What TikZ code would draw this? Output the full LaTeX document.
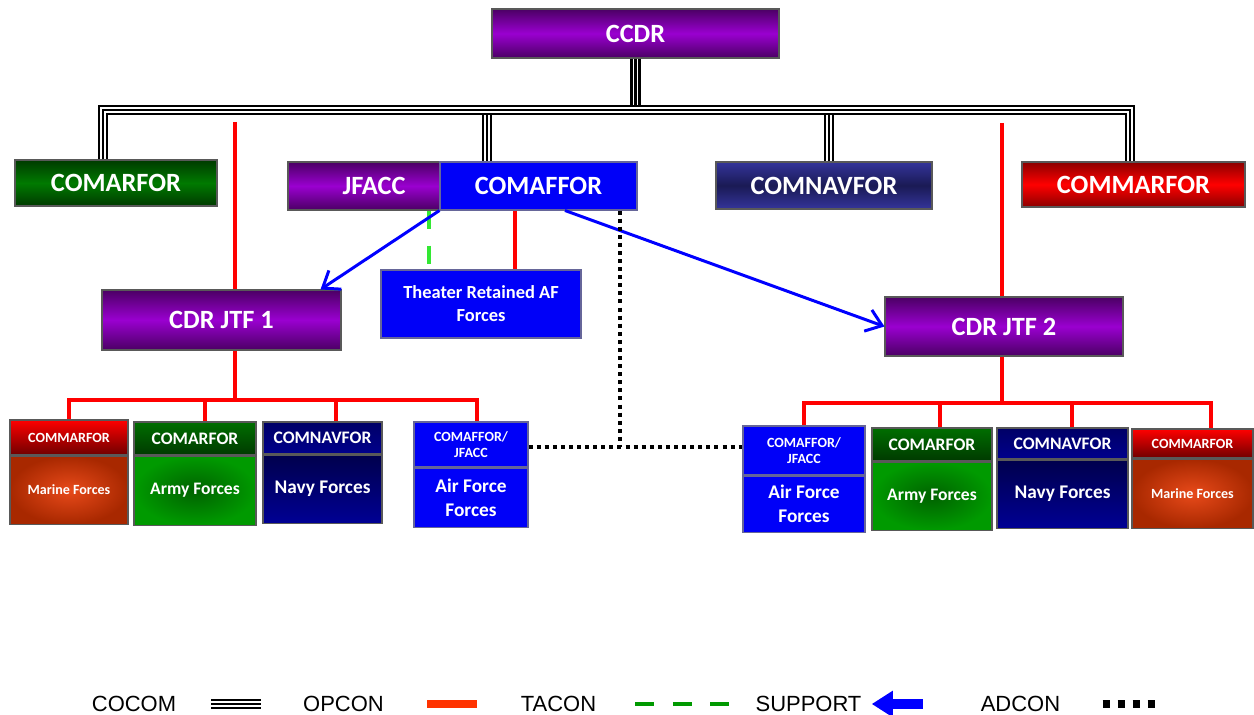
\documentclass[tikz,border=0pt]{standalone}
\usepackage{fontspec}
\setmainfont{Carlito}
\newfontfamily\legfont{Liberation Sans}
\usetikzlibrary{positioning, arrows.meta}

\definecolor{purpledk}{HTML}{4B0064}
\definecolor{purplelt}{HTML}{9A00D0}
\definecolor{greendk}{HTML}{003A00}
\definecolor{greenlt}{HTML}{007A00}
\definecolor{navylt}{HTML}{34349A}
\definecolor{navydk}{HTML}{1A1A55}
\definecolor{reddk}{HTML}{8B0000}
\definecolor{afblue}{HTML}{0000F8}
\definecolor{marin}{HTML}{E84A1A}
\definecolor{marout}{HTML}{A82800}
\definecolor{armin}{HTML}{006200}
\definecolor{armout}{HTML}{009A00}
\definecolor{tacongreen}{HTML}{33E833}
\definecolor{legreen}{HTML}{009900}
\definecolor{legred}{HTML}{FF3300}

\begin{document}
\begin{tikzpicture}[
    box/.style={draw=black!65, line width=0.6pt, text=white, align=center, inner sep=0pt},
    purplebox/.style={box, top color=purpledk, bottom color=purpledk, middle color=purplelt},
    greenbox/.style={box, top color=greendk, bottom color=greendk, middle color=greenlt},
    navybox/.style={box, top color=navylt, bottom color=navylt, middle color=navydk},
    redbox/.style={box, top color=reddk, bottom color=reddk, middle color=red},
    bluebox/.style={box, draw=gray!80!blue, fill=afblue},
    redhead/.style={box, top color=red, bottom color=reddk!80!black},
    greenhead/.style={box, top color=greenlt!90!black, bottom color=greendk},
    navyhead/.style={box, top color=blue!40!black, bottom color=blue!55!black},
    marbody/.style={box, inner color=marin, outer color=marout},
    armbody/.style={box, inner color=armin, outer color=armout},
    navybody/.style={box, top color=blue!30!black, bottom color=blue!58!black},
    big/.style={font=\fontsize{15}{17}\selectfont\bfseries},
    mid/.style={font=\fontsize{10.5}{13}\selectfont\bfseries},
    tiny/.style={font=\fontsize{8}{9.5}\selectfont\bfseries},
    tag/.style={font=\fontsize{10}{12}\selectfont\bfseries},
    cocom/.style={line width=6pt, black, postaction={draw=white, line width=3.2pt}, postaction={draw=black, line width=1.3pt}},
    opcon/.style={red, line width=2.4pt},
    tacon/.style={tacongreen, line width=2.3pt, dash pattern=on 0.36cm off 0.34cm},
    support/.style={blue, line width=1.7pt, -{Straight Barb[length=0.3cm, width=0.45cm]}},
    adcon/.style={black, line width=2.3pt, dash pattern=on 2.3pt off 2.3pt},
    legtxt/.style={font=\legfont\fontsize{12.5}{14}\selectfont, inner sep=0pt}
  ]
  \useasboundingbox (0,0) rectangle (25.08,-14.3);

  % top level
  \node[purplebox, big, minimum width=5.74cm, minimum height=0.98cm] (ccdr) at (12.71,-0.67) {CCDR};

  % component commanders
  \node[greenbox, big, minimum width=4.04cm, minimum height=0.92cm] (comarf) at (2.32,-3.66) {COMARFOR};
  \node[purplebox, big, minimum width=3.04cm, minimum height=0.96cm] (jfacc) at (7.28,-3.72) {\hspace{0.4cm}JFACC};
  \node[bluebox, big, minimum width=3.94cm, minimum height=0.96cm] (comaf) at (10.77,-3.72) {COMAFFOR};
  \node[navybox, big, minimum width=4.32cm, minimum height=0.94cm] (comnav) at (16.48,-3.71) {COMNAVFOR};
  \node[redbox, big, minimum width=4.46cm, minimum height=0.9cm] (commarf) at (22.67,-3.69) {COMMARFOR};

  % joint task forces
  \node[purplebox, big, minimum width=4.78cm, minimum height=1.2cm] (jtf1) at (4.43,-6.4) {CDR JTF 1};
  \node[bluebox, mid, minimum width=4.0cm, minimum height=1.36cm] (theater) at (9.62,-6.08) {Theater Retained AF\\Forces};
  \node[purplebox, big, minimum width=4.76cm, minimum height=1.18cm] (jtf2) at (20.08,-6.53) {CDR JTF 2};

  % forces under JTF 1
  \node[redhead, tiny, minimum width=2.36cm, minimum height=0.7cm] (mar1h) at (1.38,-8.75) {COMMARFOR};
  \node[marbody, tiny, minimum width=2.36cm, minimum height=1.36cm, below=0pt of mar1h] (mar1b) {Marine Forces};
  \node[greenhead, tag, minimum width=2.44cm, minimum height=0.66cm] (arm1h) at (3.9,-8.77) {COMARFOR};
  \node[armbody, tag, minimum width=2.44cm, minimum height=1.38cm, below=0pt of arm1h] (arm1b) {Army Forces};
  \node[navyhead, tag, minimum width=2.38cm, minimum height=0.64cm] (nav1h) at (6.45,-8.76) {COMNAVFOR};
  \node[navybody, font=\fontsize{11}{13}\selectfont\bfseries, minimum width=2.38cm, minimum height=1.36cm, below=0pt of nav1h] (nav1b) {Navy Forces};
  \node[bluebox, tiny, minimum width=2.28cm, minimum height=0.9cm] (air1h) at (9.42,-8.89) {COMAFFOR/\\JFACC};
  \node[bluebox, font=\fontsize{11}{13.5}\selectfont\bfseries, minimum width=2.28cm, minimum height=1.18cm, below=0pt of air1h] (air1b) {Air Force\\Forces};

  % forces under JTF 2
  \node[bluebox, tiny, minimum width=2.44cm, minimum height=0.98cm] (air2h) at (16.08,-9.01) {COMAFFOR/\\JFACC};
  \node[bluebox, font=\fontsize{11}{13.5}\selectfont\bfseries, minimum width=2.44cm, minimum height=1.12cm, below=0pt of air2h] (air2b) {Air Force\\Forces};
  \node[greenhead, tag, minimum width=2.4cm, minimum height=0.66cm] (arm2h) at (18.64,-8.89) {COMARFOR};
  \node[armbody, tag, minimum width=2.4cm, minimum height=1.36cm, below=0pt of arm2h] (arm2b) {Army Forces};
  \node[navyhead, tag, minimum width=2.62cm, minimum height=0.62cm] (nav2h) at (21.25,-8.87) {COMNAVFOR};
  \node[navybody, font=\fontsize{11}{13}\selectfont\bfseries, minimum width=2.62cm, minimum height=1.36cm, below=0pt of nav2h] (nav2b) {Navy Forces};
  \node[redhead, tiny, minimum width=2.42cm, minimum height=0.58cm] (mar2h) at (23.85,-8.87) {COMMARFOR};
  \node[marbody, tiny, minimum width=2.42cm, minimum height=1.38cm, below=0pt of mar2h] (mar2b) {Marine Forces};

  % COCOM
  \coordinate (bus) at (12.72,-2.2);
  \draw[cocom] ([xshift=-0.26cm]comarf.north) |- (bus) -| ([xshift=-0.07cm]commarf.north);
  \draw[cocom] (ccdr.south) -- ([yshift=0.1cm]ccdr.south |- bus);
  \draw[cocom] ([xshift=-1.03cm,yshift=-0.1cm]comaf.north |- bus) -- ([xshift=-1.03cm]comaf.north);
  \draw[cocom] ([xshift=0.1cm,yshift=-0.1cm]comnav.north |- bus) -- ([xshift=0.1cm]comnav.north);

  % OPCON
  \coordinate (op1) at (4.7,-2.44);
  \coordinate (lbus1) at (4.7,-8.0);
  \draw[opcon] (op1) -- (op1 |- jtf1.north);
  \draw[opcon] (op1 |- jtf1.south) -- (lbus1);
  \draw[opcon] (mar1h.north) |- (lbus1) -| ([xshift=0.12cm]air1h.north);
  \draw[opcon] ([xshift=0.2cm]arm1h.north) -- ([xshift=0.2cm]arm1h.north |- lbus1);
  \draw[opcon] ([xshift=0.27cm]nav1h.north) -- ([xshift=0.27cm]nav1h.north |- lbus1);

  \coordinate (op2) at (20.04,-2.46);
  \coordinate (lbus2) at (20.04,-8.06);
  \draw[opcon] (op2) -- (op2 |- jtf2.north);
  \draw[opcon] (op2 |- jtf2.south) -- (lbus2);
  \draw[opcon] (air2h.north) |- (lbus2) -| ([xshift=0.37cm]mar2h.north);
  \draw[opcon] ([xshift=0.16cm]arm2h.north) -- ([xshift=0.16cm]arm2h.north |- lbus2);
  \draw[opcon] ([xshift=0.19cm]nav2h.north) -- ([xshift=0.19cm]nav2h.north |- lbus2);

  \draw[opcon] ([xshift=-0.47cm]comaf.south) -- ([xshift=-0.47cm]comaf.south |- theater.north);

  % TACON
  \draw[tacon] ([xshift=-0.24cm]jfacc.south east) -- ([xshift=-0.24cm]jfacc.south east |- theater.north);

  % SUPPORT
  \draw[support] (comaf.south west) -- ([xshift=-0.42cm]jtf1.north east);
  \draw[support] ([xshift=0.53cm]comaf.south) -- (jtf2.west);

  % ADCON
  \coordinate (adc) at (12.4,-8.94);
  \draw[adcon] (adc |- comaf.south) -- (adc);
  \draw[adcon] (air1h.east |- adc) -- (air2h.west |- adc);

  % legend
  \node[legtxt] (lcocom) at (2.68,-14.08) {COCOM};
  \draw[cocom] ([xshift=0.7cm]lcocom.east) -- ++(1,0);
  \node[legtxt] (lopcon) at (6.87,-14.08) {OPCON};
  \draw[legred, line width=4.5pt] ([xshift=0.86cm]lopcon.east) -- ++(1,0);
  \node[legtxt] (ltacon) at (11.17,-14.08) {TACON};
  \draw[legreen, line width=2.8pt, dash pattern=on 0.38cm off 0.37cm] ([xshift=0.78cm]ltacon.east) -- ++(1.88,0);
  \node[legtxt] (lsup) at (16.17,-14.08) {SUPPORT};
  \draw[blue, line width=5.5pt, -{Triangle[length=0.42cm, width=0.5cm]}] ([xshift=1.22cm]lsup.east) -- ([xshift=0.2cm]lsup.east);
  \node[legtxt] (ladcon) at (20.41,-14.08) {ADCON};
  \draw[black, line width=0.15cm, dash pattern=on 0.15cm off 0.15cm] ([xshift=0.84cm]ladcon.east) -- ++(1.14,0);
\end{tikzpicture}
\end{document}
